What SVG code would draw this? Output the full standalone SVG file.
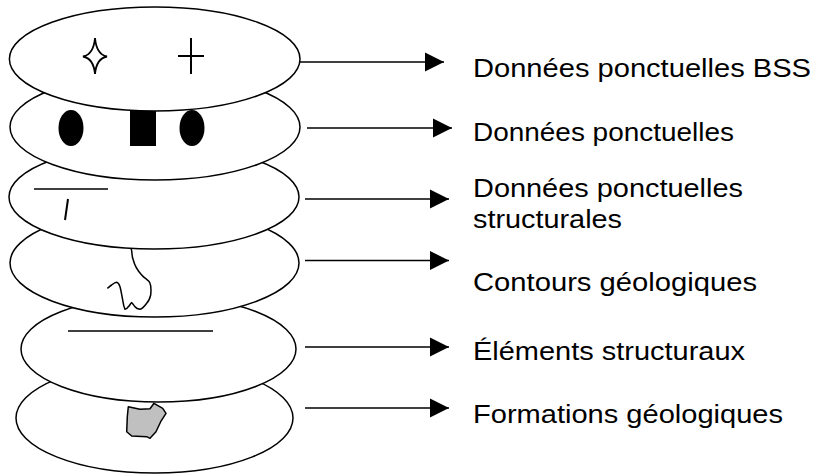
<svg xmlns="http://www.w3.org/2000/svg" width="815" height="475" viewBox="0 0 815 475">
<defs>
<style>
.layer{fill:#ffffff;stroke:#000000;stroke-width:1.5}
.sym{fill:none;stroke:#000000;stroke-width:2;stroke-linecap:butt}
.fill{fill:#000000;stroke:none}
.conn{stroke:#000000;stroke-width:1.5;fill:none}
.lbl{font-family:"Liberation Sans",Arial,sans-serif;font-size:25px;fill:#000000}
</style>
<marker id="arrow" markerUnits="userSpaceOnUse" markerWidth="20" markerHeight="20" refX="19" refY="10" orient="auto" viewBox="0 0 20 20">
<path d="M0,0.5 L19,10 L0,19.5 Z" fill="#000000"/>
</marker>
</defs>
<rect width="815" height="475" fill="#ffffff"/>

<g id="layer6">
<ellipse class="layer" cx="154.5" cy="418" rx="138.5" ry="55"/>
<polygon points="128.3,406.7 140,409.3 150,408.7 154,403.3 162.7,408.3 166,413.3 160.7,421.7 156,431.7 150,438.3 146.7,436.7 131.7,436 126.7,431.7 127.3,416.7" fill="#c0c0c0" stroke="#000000" stroke-width="1.5" stroke-linejoin="round"/>
</g>
<g id="layer5">
<ellipse class="layer" cx="158.5" cy="349" rx="137.5" ry="53"/>
<line class="sym" x1="68" y1="331" x2="213" y2="331" style="stroke-width:1.5"/>
</g>
<g id="layer4">
<ellipse class="layer" cx="154.5" cy="263" rx="144.5" ry="54"/>
<path class="sym" style="stroke-width:1.5" d="M121.7,247.7 Q126,245.5 130,246.7 C133,250 131,255 133.3,260 C135,267 138,271 141.7,275 C145,279 149,280 150,283.3 C151.5,287 151,292 150.7,295 C149.5,300 148,302 146.7,303.3 C144,307 142,309 140,309.3 C137.5,309 136,308 135,306.7 C133.5,305 132.5,303 131.7,302.7 C130,304 129.5,306 128.3,306.7 C127,308.5 126,309.5 125,309.3 C123.5,306 123.2,303 122.7,300 C121.5,294 121,290 120,286.7 C119,284 118,282.5 116.7,282.3 C114.5,282.5 113,284 111.7,285 C110,286 108.5,287.5 107.3,288.3"/>
</g>
<g id="layer3">
<ellipse class="layer" cx="154" cy="197" rx="145" ry="52"/>
<line class="sym" x1="34" y1="189" x2="108" y2="189" style="stroke-width:1.5"/>
<line class="sym" x1="68" y1="199" x2="65" y2="220"/>
</g>
<g id="layer2">
<ellipse class="layer" cx="155" cy="127" rx="145" ry="53"/>
<ellipse class="fill" cx="71" cy="128" rx="12.5" ry="18"/>
<rect class="fill" x="130" y="111" width="26" height="35"/>
<ellipse class="fill" cx="192" cy="128" rx="12.5" ry="18"/>
</g>
<g id="layer1">
<ellipse class="layer" cx="154.7" cy="59" rx="145.3" ry="52"/>
<path d="M95,38 Q96.5,54.5 107,56.5 Q96.5,58.5 95,74 Q93.5,58.5 83,56.5 Q93.5,54.5 95,38 Z" fill="#ffffff" stroke="#000000" stroke-width="1.8" stroke-linejoin="miter"/>
<line class="sym" x1="191" y1="38" x2="191" y2="74"/>
<line class="sym" x1="178" y1="56" x2="204" y2="56"/>
</g>

<g id="connectors">
<line class="conn" x1="300" y1="62" x2="444" y2="62" marker-end="url(#arrow)"/>
<line class="conn" x1="307" y1="128" x2="452" y2="128" marker-end="url(#arrow)"/>
<line class="conn" x1="305" y1="199" x2="449" y2="199" marker-end="url(#arrow)"/>
<line class="conn" x1="305" y1="260.5" x2="449" y2="260.5" marker-end="url(#arrow)"/>
<line class="conn" x1="305" y1="347" x2="449" y2="347" marker-end="url(#arrow)"/>
<line class="conn" x1="305" y1="408" x2="449" y2="408" marker-end="url(#arrow)"/>
</g>

<g id="labels">
<text class="lbl" x="473" y="77" textLength="338" lengthAdjust="spacingAndGlyphs">Données ponctuelles BSS</text>
<text class="lbl" x="473" y="141" textLength="261" lengthAdjust="spacingAndGlyphs">Données ponctuelles</text>
<text class="lbl" x="473" y="197" textLength="270" lengthAdjust="spacingAndGlyphs">Données ponctuelles</text>
<text class="lbl" x="473" y="228" textLength="149" lengthAdjust="spacingAndGlyphs">structurales</text>
<text class="lbl" x="473" y="291" textLength="284" lengthAdjust="spacingAndGlyphs">Contours géologiques</text>
<text class="lbl" x="473" y="360" textLength="272" lengthAdjust="spacingAndGlyphs">Éléments structuraux</text>
<text class="lbl" x="473" y="423" textLength="310" lengthAdjust="spacingAndGlyphs">Formations géologiques</text>
</g>
</svg>
